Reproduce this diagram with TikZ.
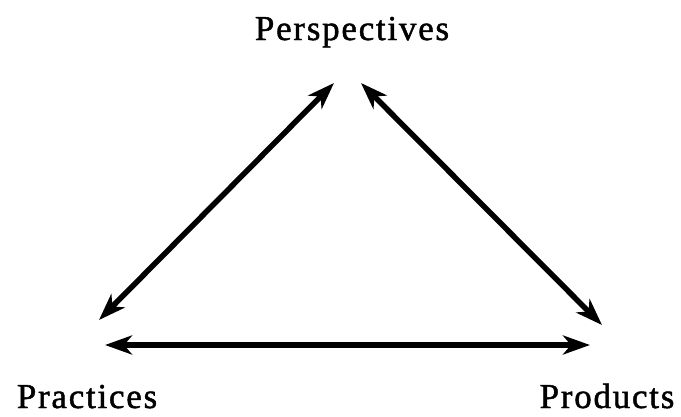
\documentclass[tikz,border=0pt]{standalone}
\usepackage{fontspec}
\setmainfont{Liberation Serif}
\usetikzlibrary{arrows.meta}
\begin{document}
\begin{tikzpicture}[x=1pt,y=-1pt,
  label/.style={anchor=base,inner sep=0pt,
    font=\fontsize{35}{40}\selectfont\addfontfeature{LetterSpace=5,FakeBold=1.3}},
  tip/.style={Stealth[length=27pt,width=19pt,inset=8pt]},
  link/.style={line width=5.5pt,{Stealth[length=27pt,width=19pt,inset=8pt]}-{Stealth[length=27pt,width=19pt,inset=8pt]}}]
  \useasboundingbox (0,0) rectangle (681,416);
  % corner labels
  \node[label] (persp) at (352,40) {Perspectives};
  \node[label] (pract) at (87,408) {Practices};
  \node[label] (prod)  at (607,408) {Products};
  % arrow ends
  \coordinate (perspL) at (334,83);
  \coordinate (perspR) at (361,83);
  \coordinate (practU) at (99,320);
  \coordinate (practB) at (105,345);
  \coordinate (prodU)  at (602,325);
  \coordinate (prodB)  at (590,345);
  % the three two-way links
  \draw[link] (practU) -- (perspL);
  \draw[link] (perspR) -- (prodU);
  \draw[link] (practB) -- (prodB);
\end{tikzpicture}
\end{document}
